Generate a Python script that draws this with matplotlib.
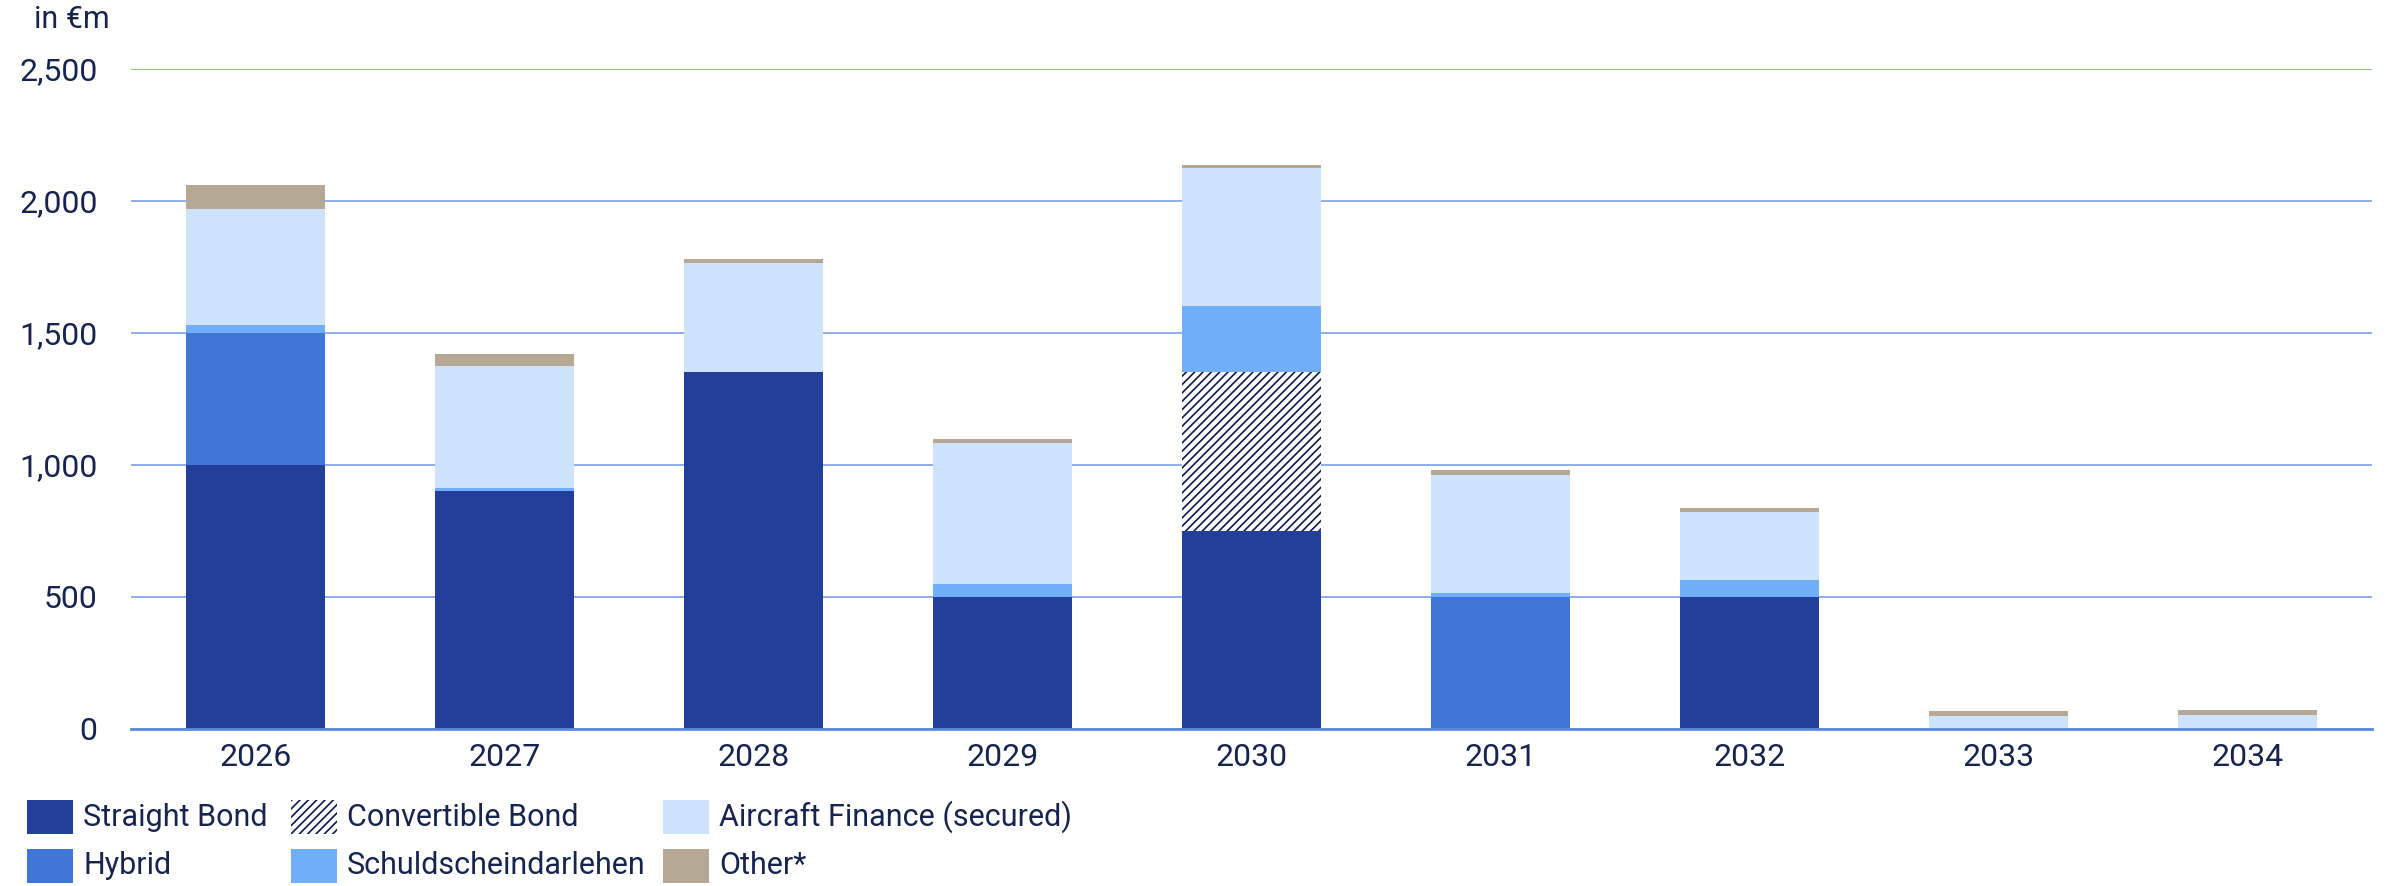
import matplotlib
matplotlib.use("Agg")
import matplotlib.pyplot as plt
import numpy as np
from matplotlib.patches import Patch, Rectangle

years = ["2026", "2027", "2028", "2029", "2030", "2031", "2032", "2033", "2034"]
straight_bond = [1000, 900, 1350, 500, 750, 0, 500, 0, 0]
convertible_bond = [0, 0, 0, 0, 600, 0, 0, 0, 0]
hybrid = [500, 0, 0, 0, 0, 500, 0, 0, 0]
schuldschein = [30, 12, 0, 50, 250, 15, 65, 0, 0]
aircraft = [438, 463, 413, 533, 522, 446, 257, 50, 52]
other = [90, 46, 15, 13, 13, 19, 14, 17, 19]

yticks = [0, 500, 1000, 1500, 2000, 2500]
ytick_labels = ["0", "500", "1,000", "1,500", "2,000", "2,500"]

navy_text = "#16244f"
c_straight = "#243f99"
c_hybrid = "#4076d6"
c_schuld = "#70aefa"
c_aircraft = "#cde3fc"
c_other = "#b5a995"
c_hatch = "#0d1a4a"

plt.rcParams["font.family"] = ["Roboto", "DejaVu Sans"]
plt.rcParams["font.weight"] = "normal"
plt.rcParams["hatch.linewidth"] = 1.2
plt.rcParams["hatch.color"] = c_hatch

fig = plt.figure(figsize=(23.87, 8.86), dpi=100)
ax = fig.add_axes([131 / 2387, (886 - 729) / 886, (2372 - 131) / 2387, (729 - 68.5) / 886])

x = np.arange(len(years))
w = 0.555
bottom = np.zeros(len(years))

def stack(vals, color, hatch=None):
    global bottom
    v = np.array(vals, dtype=float)
    if hatch:
        ax.bar(x, v, w, bottom=bottom, color="white", edgecolor=c_hatch, hatch=hatch,
               linewidth=0, zorder=3)
    else:
        ax.bar(x, v, w, bottom=bottom, color=color, linewidth=0, zorder=3)
    bottom = bottom + v

stack(straight_bond, c_straight)
stack(convertible_bond, None, hatch="////")
stack(hybrid, c_hybrid)
stack(schuldschein, c_schuld)
stack(aircraft, c_aircraft)
stack(other, c_other)

ax.set_xlim(-0.5, len(years) - 0.5)
ax.set_ylim(0, 2500)
ax.set_yticks(yticks)
ax.set_yticklabels(ytick_labels)
ax.set_xticks(x)
ax.set_xticklabels(years)
ax.grid(axis="y", color="#86a8e8", linewidth=1.3, zorder=0)
ax.set_axisbelow(True)
for s in ["top", "right", "left"]:
    ax.spines[s].set_visible(False)
ax.spines["bottom"].set_color("#5b8ae0")
ax.spines["bottom"].set_linewidth(2)
ax.spines["bottom"].set_zorder(4)
ax.tick_params(axis="both", length=0, labelsize=23, labelcolor=navy_text)
ax.tick_params(axis="y", pad=24)
ax.tick_params(axis="x", pad=10)

fig.text(34 / 2387, 1 - 20 / 886, "in €m", fontsize=22, color=navy_text, va="center", ha="left")

# legend
handles = [
    Patch(facecolor=c_straight, label="Straight Bond"),
    Patch(facecolor=c_hybrid, label="Hybrid"),
    Patch(facecolor="white", edgecolor=c_hatch, hatch="////", linewidth=0, label="Convertible Bond"),
    Patch(facecolor=c_schuld, label="Schuldscheindarlehen"),
    Patch(facecolor=c_aircraft, label="Aircraft Finance (secured)"),
    Patch(facecolor=c_other, label="Other*"),
]
cols = [27, 291, 663]
rows = [817, 866]
order = [(0, 0), (0, 1), (1, 0), (1, 1), (2, 0), (2, 1)]
for h, (ci, ri) in zip(handles, order):
    x0 = cols[ci]
    yc = rows[ri]
    rect = Rectangle((x0 / 2387, 1 - (yc + 17) / 886), 46 / 2387, 34 / 886,
                     transform=fig.transFigure, facecolor=h.get_facecolor(),
                     edgecolor=c_hatch if h.get_hatch() else "none",
                     hatch=h.get_hatch(), linewidth=0)
    fig.patches.append(rect)
    fig.text((x0 + 56) / 2387, 1 - yc / 886, h.get_label(), fontsize=22, color=navy_text,
             va="center", ha="left")

fig.savefig("out.png", dpi=100)
